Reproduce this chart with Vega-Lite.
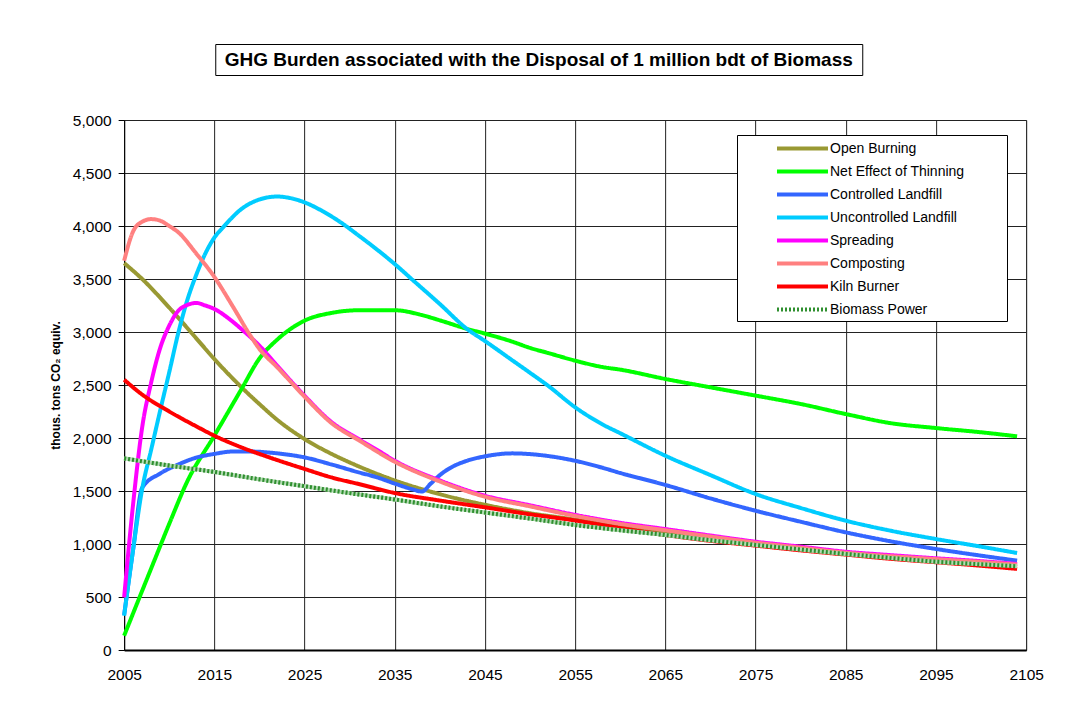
{
  "$schema": "https://vega.github.io/schema/vega-lite/v6.json",
  "padding": {"left": 48, "top": 43, "right": 5, "bottom": 5},
  "background": "white",
  "config": {
    "font": "Liberation Sans",
    "view": {"stroke": null}
  },
  "datasets": {
    "lines": [
      {"series":"Open Burning","year":2005,"value":3650},{"series":"Open Burning","year":2007,"value":3500},{"series":"Open Burning","year":2010,"value":3230},{"series":"Open Burning","year":2013,"value":2940},{"series":"Open Burning","year":2015,"value":2745},{"series":"Open Burning","year":2018,"value":2480},{"series":"Open Burning","year":2020,"value":2320},{"series":"Open Burning","year":2022,"value":2170},{"series":"Open Burning","year":2025,"value":1990},{"series":"Open Burning","year":2028,"value":1850},{"series":"Open Burning","year":2030,"value":1770},{"series":"Open Burning","year":2035,"value":1600},{"series":"Open Burning","year":2040,"value":1470},{"series":"Open Burning","year":2045,"value":1370},{"series":"Open Burning","year":2050,"value":1290},{"series":"Open Burning","year":2055,"value":1230},{"series":"Open Burning","year":2060,"value":1160},{"series":"Open Burning","year":2065,"value":1100},{"series":"Open Burning","year":2070,"value":1050},{"series":"Open Burning","year":2075,"value":1000},{"series":"Open Burning","year":2080,"value":955},{"series":"Open Burning","year":2085,"value":915},{"series":"Open Burning","year":2090,"value":880},{"series":"Open Burning","year":2095,"value":845},{"series":"Open Burning","year":2100,"value":812},{"series":"Open Burning","year":2104,"value":785},
      {"series":"Net Effect of Thinning","year":2005,"value":135},{"series":"Net Effect of Thinning","year":2008,"value":770},{"series":"Net Effect of Thinning","year":2010,"value":1190},{"series":"Net Effect of Thinning","year":2012,"value":1590},{"series":"Net Effect of Thinning","year":2015,"value":2022},{"series":"Net Effect of Thinning","year":2018,"value":2460},{"series":"Net Effect of Thinning","year":2020,"value":2750},{"series":"Net Effect of Thinning","year":2022,"value":2930},{"series":"Net Effect of Thinning","year":2025,"value":3107},{"series":"Net Effect of Thinning","year":2028,"value":3180},{"series":"Net Effect of Thinning","year":2031,"value":3205},{"series":"Net Effect of Thinning","year":2035,"value":3205},{"series":"Net Effect of Thinning","year":2038,"value":3160},{"series":"Net Effect of Thinning","year":2040,"value":3110},{"series":"Net Effect of Thinning","year":2043,"value":3030},{"series":"Net Effect of Thinning","year":2045,"value":2985},{"series":"Net Effect of Thinning","year":2048,"value":2910},{"series":"Net Effect of Thinning","year":2050,"value":2850},{"series":"Net Effect of Thinning","year":2052,"value":2802},{"series":"Net Effect of Thinning","year":2055,"value":2730},{"series":"Net Effect of Thinning","year":2058,"value":2670},{"series":"Net Effect of Thinning","year":2060,"value":2645},{"series":"Net Effect of Thinning","year":2065,"value":2557},{"series":"Net Effect of Thinning","year":2070,"value":2478},{"series":"Net Effect of Thinning","year":2075,"value":2400},{"series":"Net Effect of Thinning","year":2080,"value":2321},{"series":"Net Effect of Thinning","year":2085,"value":2226},{"series":"Net Effect of Thinning","year":2090,"value":2140},{"series":"Net Effect of Thinning","year":2095,"value":2094},{"series":"Net Effect of Thinning","year":2100,"value":2054},{"series":"Net Effect of Thinning","year":2104,"value":2016},
      {"series":"Controlled Landfill","year":2005,"value":330},{"series":"Controlled Landfill","year":2006,"value":950},{"series":"Controlled Landfill","year":2007,"value":1530},{"series":"Controlled Landfill","year":2009,"value":1665},{"series":"Controlled Landfill","year":2011,"value":1750},{"series":"Controlled Landfill","year":2013,"value":1815},{"series":"Controlled Landfill","year":2015,"value":1850},{"series":"Controlled Landfill","year":2017,"value":1872},{"series":"Controlled Landfill","year":2019,"value":1872},{"series":"Controlled Landfill","year":2022,"value":1855},{"series":"Controlled Landfill","year":2025,"value":1817},{"series":"Controlled Landfill","year":2028,"value":1750},{"series":"Controlled Landfill","year":2031,"value":1676},{"series":"Controlled Landfill","year":2033,"value":1630},{"series":"Controlled Landfill","year":2035,"value":1570},{"series":"Controlled Landfill","year":2037,"value":1515},{"series":"Controlled Landfill","year":2038,"value":1495},{"series":"Controlled Landfill","year":2039,"value":1570},{"series":"Controlled Landfill","year":2040,"value":1650},{"series":"Controlled Landfill","year":2041,"value":1710},{"series":"Controlled Landfill","year":2043,"value":1785},{"series":"Controlled Landfill","year":2045,"value":1827},{"series":"Controlled Landfill","year":2048,"value":1855},{"series":"Controlled Landfill","year":2050,"value":1848},{"series":"Controlled Landfill","year":2052,"value":1830},{"series":"Controlled Landfill","year":2055,"value":1785},{"series":"Controlled Landfill","year":2058,"value":1720},{"series":"Controlled Landfill","year":2060,"value":1670},{"series":"Controlled Landfill","year":2065,"value":1557},{"series":"Controlled Landfill","year":2070,"value":1430},{"series":"Controlled Landfill","year":2075,"value":1314},{"series":"Controlled Landfill","year":2080,"value":1210},{"series":"Controlled Landfill","year":2085,"value":1110},{"series":"Controlled Landfill","year":2090,"value":1025},{"series":"Controlled Landfill","year":2095,"value":953},{"series":"Controlled Landfill","year":2100,"value":890},{"series":"Controlled Landfill","year":2104,"value":843},
      {"series":"Uncontrolled Landfill","year":2005,"value":323},{"series":"Uncontrolled Landfill","year":2006,"value":950},{"series":"Uncontrolled Landfill","year":2007,"value":1519},{"series":"Uncontrolled Landfill","year":2008,"value":1890},{"series":"Uncontrolled Landfill","year":2009,"value":2260},{"series":"Uncontrolled Landfill","year":2010,"value":2620},{"series":"Uncontrolled Landfill","year":2011,"value":2990},{"series":"Uncontrolled Landfill","year":2012,"value":3300},{"series":"Uncontrolled Landfill","year":2013,"value":3540},{"series":"Uncontrolled Landfill","year":2014,"value":3740},{"series":"Uncontrolled Landfill","year":2015,"value":3890},{"series":"Uncontrolled Landfill","year":2016,"value":3990},{"series":"Uncontrolled Landfill","year":2018,"value":4160},{"series":"Uncontrolled Landfill","year":2020,"value":4250},{"series":"Uncontrolled Landfill","year":2022,"value":4278},{"series":"Uncontrolled Landfill","year":2023,"value":4270},{"series":"Uncontrolled Landfill","year":2025,"value":4223},{"series":"Uncontrolled Landfill","year":2027,"value":4140},{"series":"Uncontrolled Landfill","year":2029,"value":4035},{"series":"Uncontrolled Landfill","year":2031,"value":3910},{"series":"Uncontrolled Landfill","year":2033,"value":3780},{"series":"Uncontrolled Landfill","year":2035,"value":3641},{"series":"Uncontrolled Landfill","year":2037,"value":3490},{"series":"Uncontrolled Landfill","year":2040,"value":3264},{"series":"Uncontrolled Landfill","year":2043,"value":3030},{"series":"Uncontrolled Landfill","year":2045,"value":2915},{"series":"Uncontrolled Landfill","year":2048,"value":2735},{"series":"Uncontrolled Landfill","year":2050,"value":2615},{"series":"Uncontrolled Landfill","year":2052,"value":2493},{"series":"Uncontrolled Landfill","year":2055,"value":2290},{"series":"Uncontrolled Landfill","year":2058,"value":2130},{"series":"Uncontrolled Landfill","year":2060,"value":2045},{"series":"Uncontrolled Landfill","year":2065,"value":1833},{"series":"Uncontrolled Landfill","year":2070,"value":1650},{"series":"Uncontrolled Landfill","year":2075,"value":1472},{"series":"Uncontrolled Landfill","year":2080,"value":1340},{"series":"Uncontrolled Landfill","year":2085,"value":1220},{"series":"Uncontrolled Landfill","year":2090,"value":1125},{"series":"Uncontrolled Landfill","year":2095,"value":1047},{"series":"Uncontrolled Landfill","year":2100,"value":975},{"series":"Uncontrolled Landfill","year":2104,"value":915},
      {"series":"Spreading","year":2005,"value":497},{"series":"Spreading","year":2006,"value":1380},{"series":"Spreading","year":2007,"value":2100},{"series":"Spreading","year":2008,"value":2525},{"series":"Spreading","year":2009,"value":2850},{"series":"Spreading","year":2010,"value":3060},{"series":"Spreading","year":2011,"value":3200},{"series":"Spreading","year":2012,"value":3255},{"series":"Spreading","year":2013,"value":3274},{"series":"Spreading","year":2014,"value":3250},{"series":"Spreading","year":2015,"value":3217},{"series":"Spreading","year":2017,"value":3100},{"series":"Spreading","year":2018,"value":3028},{"series":"Spreading","year":2020,"value":2871},{"series":"Spreading","year":2022,"value":2680},{"series":"Spreading","year":2025,"value":2399},{"series":"Spreading","year":2028,"value":2150},{"series":"Spreading","year":2031,"value":1990},{"series":"Spreading","year":2033,"value":1890},{"series":"Spreading","year":2035,"value":1786},{"series":"Spreading","year":2040,"value":1600},{"series":"Spreading","year":2045,"value":1456},{"series":"Spreading","year":2050,"value":1365},{"series":"Spreading","year":2055,"value":1275},{"series":"Spreading","year":2060,"value":1200},{"series":"Spreading","year":2065,"value":1141},{"series":"Spreading","year":2070,"value":1080},{"series":"Spreading","year":2075,"value":1022},{"series":"Spreading","year":2080,"value":975},{"series":"Spreading","year":2085,"value":927},{"series":"Spreading","year":2090,"value":895},{"series":"Spreading","year":2095,"value":865},{"series":"Spreading","year":2100,"value":838},{"series":"Spreading","year":2104,"value":812},
      {"series":"Composting","year":2005,"value":3673},{"series":"Composting","year":2006,"value":3950},{"series":"Composting","year":2007,"value":4040},{"series":"Composting","year":2008,"value":4065},{"series":"Composting","year":2009,"value":4050},{"series":"Composting","year":2010,"value":4000},{"series":"Composting","year":2011,"value":3941},{"series":"Composting","year":2013,"value":3740},{"series":"Composting","year":2015,"value":3520},{"series":"Composting","year":2017,"value":3248},{"series":"Composting","year":2019,"value":2965},{"series":"Composting","year":2020,"value":2840},{"series":"Composting","year":2022,"value":2665},{"series":"Composting","year":2025,"value":2390},{"series":"Composting","year":2028,"value":2140},{"series":"Composting","year":2031,"value":1980},{"series":"Composting","year":2035,"value":1776},{"series":"Composting","year":2040,"value":1590},{"series":"Composting","year":2045,"value":1446},{"series":"Composting","year":2050,"value":1355},{"series":"Composting","year":2055,"value":1265},{"series":"Composting","year":2060,"value":1190},{"series":"Composting","year":2065,"value":1130},{"series":"Composting","year":2070,"value":1070},{"series":"Composting","year":2075,"value":1013},{"series":"Composting","year":2080,"value":965},{"series":"Composting","year":2085,"value":918},{"series":"Composting","year":2090,"value":885},{"series":"Composting","year":2095,"value":857},{"series":"Composting","year":2100,"value":830},{"series":"Composting","year":2104,"value":805},
      {"series":"Kiln Burner","year":2005,"value":2550},{"series":"Kiln Burner","year":2007,"value":2410},{"series":"Kiln Burner","year":2010,"value":2250},{"series":"Kiln Burner","year":2013,"value":2110},{"series":"Kiln Burner","year":2015,"value":2022},{"series":"Kiln Burner","year":2018,"value":1912},{"series":"Kiln Burner","year":2021,"value":1820},{"series":"Kiln Burner","year":2025,"value":1708},{"series":"Kiln Burner","year":2028,"value":1628},{"series":"Kiln Burner","year":2031,"value":1566},{"series":"Kiln Burner","year":2035,"value":1481},{"series":"Kiln Burner","year":2040,"value":1410},{"series":"Kiln Burner","year":2045,"value":1346},{"series":"Kiln Burner","year":2050,"value":1280},{"series":"Kiln Burner","year":2055,"value":1222},{"series":"Kiln Burner","year":2060,"value":1150},{"series":"Kiln Burner","year":2065,"value":1085},{"series":"Kiln Burner","year":2070,"value":1030},{"series":"Kiln Burner","year":2075,"value":985},{"series":"Kiln Burner","year":2080,"value":940},{"series":"Kiln Burner","year":2085,"value":900},{"series":"Kiln Burner","year":2090,"value":860},{"series":"Kiln Burner","year":2095,"value":828},{"series":"Kiln Burner","year":2100,"value":795},{"series":"Kiln Burner","year":2104,"value":765},
      {"series":"Biomass Power","year":2005,"value":1808},{"series":"Biomass Power","year":2010,"value":1740},{"series":"Biomass Power","year":2015,"value":1680},{"series":"Biomass Power","year":2020,"value":1610},{"series":"Biomass Power","year":2025,"value":1545},{"series":"Biomass Power","year":2030,"value":1480},{"series":"Biomass Power","year":2035,"value":1420},{"series":"Biomass Power","year":2040,"value":1355},{"series":"Biomass Power","year":2045,"value":1297},{"series":"Biomass Power","year":2050,"value":1240},{"series":"Biomass Power","year":2055,"value":1180},{"series":"Biomass Power","year":2060,"value":1130},{"series":"Biomass Power","year":2065,"value":1085},{"series":"Biomass Power","year":2070,"value":1035},{"series":"Biomass Power","year":2075,"value":991},{"series":"Biomass Power","year":2080,"value":948},{"series":"Biomass Power","year":2085,"value":906},{"series":"Biomass Power","year":2090,"value":868},{"series":"Biomass Power","year":2095,"value":833},{"series":"Biomass Power","year":2100,"value":808},{"series":"Biomass Power","year":2104,"value":790}
    ]
  },
  "center": true,
  "spacing": 36,
  "vconcat": [
    {
      "width": 647,
      "height": 31,
      "view": {"stroke": "black", "strokeWidth": 1, "fill": "white"},
      "data": {"values": [{"t": "GHG Burden associated with the Disposal of 1 million bdt of Biomass"}]},
      "mark": {"type": "text", "fontSize": 19, "fontWeight": "bold", "font": "Liberation Sans", "color": "black"},
      "encoding": {
        "text": {"field": "t", "type": "nominal"},
        "y": {
          "datum": 1, "type": "quantitative",
          "scale": {"domain": [0, 2]},
          "axis": {"orient": "right", "labels": false, "ticks": false, "domain": false, "grid": false, "title": null, "minExtent": 90, "maxExtent": 90, "offset": 0}
        }
      }
    },
    {
      "width": 902,
      "height": 530,
      "view": {"stroke": "#888888", "strokeWidth": 1},
      "data": {"name": "lines"},
      "encoding": {
        "x": {
          "field": "year", "type": "quantitative",
          "scale": {"domain": [2005, 2105], "nice": false, "zero": false},
          "axis": {
            "title": null, "values": [2005,2015,2025,2035,2045,2055,2065,2075,2085,2095,2105],
            "format": "d", "labelFlush": false, "labelFontSize": 15.5, "labelColor": "black",
            "labelFont": "Liberation Sans", "ticks": false, "tickSize": 0, "labelPadding": 17,
            "domainColor": "black", "domainWidth": 2, "grid": true, "gridColor": "#222222", "gridWidth": 1, "gridOpacity": 1
          }
        },
        "y": {
          "field": "value", "type": "quantitative",
          "scale": {"domain": [0, 5000], "nice": false},
          "axis": {
            "title": "thous. tons CO₂ equiv.", "titleFontSize": 12, "titleFontWeight": "bold",
            "titleColor": "black", "titleFont": "Liberation Sans", "titlePadding": 10,
            "values": [0,500,1000,1500,2000,2500,3000,3500,4000,4500,5000],
            "format": ",d", "labelFontSize": 15.5, "labelColor": "black", "labelFont": "Liberation Sans",
            "labelPadding": 7, "tickSize": 6, "tickColor": "black", "domainColor": "black",
            "grid": true, "gridColor": "#222222", "gridWidth": 1, "gridOpacity": 1
          }
        }
      },
      "layer": [
        {
          "mark": {"type": "line", "strokeWidth": 4, "interpolate": "monotone"},
          "encoding": {
            "color": {
              "field": "series", "type": "nominal",
              "scale": {
                "domain": ["Open Burning","Net Effect of Thinning","Controlled Landfill","Uncontrolled Landfill","Spreading","Composting","Kiln Burner","Biomass Power"],
                "range": ["#999933","#00ff00","#3366ff","#00ccff","#ff00ff","#ff8080","#ff0000","#2f8f2f"]
              },
              "legend": {
                "title": " ", "titleOrient": "right", "titlePadding": 40, "orient": "none", "legendX": 613, "legendY": 91,
                "padding": 3, "strokeColor": "black", "fillColor": "white", "labelFont": "Liberation Sans",
                "labelFontSize": 14, "labelColor": "black", "symbolType": "M-3,0H3", "symbolSize": 289,
                "symbolStrokeWidth": 4, "symbolOffset": 52, "labelOffset": 17, "rowPadding": 4
              }
            },
            "strokeDash": {
              "field": "series", "type": "nominal",
              "scale": {
                "domain": ["Open Burning","Net Effect of Thinning","Controlled Landfill","Uncontrolled Landfill","Spreading","Composting","Kiln Burner","Biomass Power"],
                "range": [[1,0],[1,0],[1,0],[1,0],[1,0],[1,0],[1,0],[2,2]]
              },
              "legend": {
                "title": " ", "titleOrient": "right", "titlePadding": 40, "orient": "none", "legendX": 613, "legendY": 91,
                "padding": 3, "strokeColor": "black", "fillColor": "white", "labelFont": "Liberation Sans",
                "labelFontSize": 14, "labelColor": "black", "symbolType": "M-3,0H3", "symbolSize": 289,
                "symbolStrokeWidth": 4, "symbolOffset": 52, "labelOffset": 17, "rowPadding": 4
              }
            }
          }
        },
        {
          "transform": [{"filter": "datum.series === 'Biomass Power'"}],
          "mark": {"type": "line", "strokeWidth": 4, "interpolate": "monotone", "color": "#b3dbb3"},
          "encoding": {}
        },
        {
          "transform": [{"filter": "datum.series === 'Biomass Power'"}],
          "mark": {"type": "line", "strokeWidth": 4, "interpolate": "monotone", "color": "#2f8f2f", "strokeDash": [2, 2]},
          "encoding": {}
        }
      ]
    }
  ]
}
